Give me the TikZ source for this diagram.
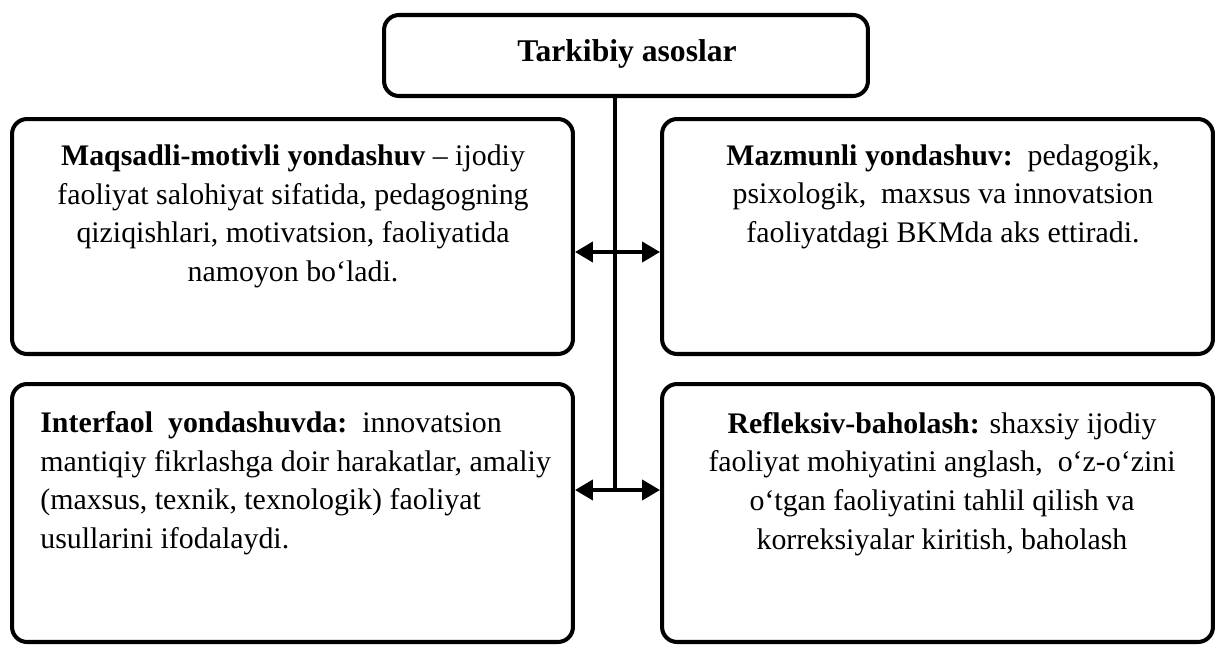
\documentclass[tikz,border=0pt]{standalone}
\usepackage{fontspec}
\setmainfont{Liberation Serif}
\usetikzlibrary{arrows.meta,positioning}

\begin{document}
\begin{tikzpicture}[x=0.02cm,y=-0.02cm,
    box/.style = {draw, line width=2.3pt, rounded corners=0.3cm, inner sep=0pt},
    txt/.style = {inner sep=0pt, anchor=base, align=center, font=\fontsize{17}{22}\selectfont},
    link/.style = {line width=2.3pt},
    dbl/.style = {line width=2.3pt, {Triangle[length=0.36cm,width=0.4cm]}-{Triangle[length=0.36cm,width=0.4cm]}}]
    \useasboundingbox (0,0) rectangle (1216,646);
    % boxes
    \node[box, minimum width=9.68cm, minimum height=1.62cm] (asos) at (626,55.5) {};
    \node[box, minimum width=11.22cm, minimum height=4.70cm] (maqsad) at (292.5,236.5) {};
    \node[box, minimum width=11.02cm, minimum height=4.70cm] (mazmun) at (937.5,236.5) {};
    \node[box, minimum width=11.22cm, minimum height=5.16cm] (interfaol) at (292.5,513) {};
    \node[box, minimum width=11.02cm, minimum height=5.16cm] (refleks) at (937.5,513) {};
    % texts (base = baseline of the last line)
    \node[txt, font=\fontsize{18}{22}\selectfont\bfseries] (asostxt) at (627,61) {Tarkibiy asoslar};
    \node[txt] (maqsadtxt) at (293,281.5) {\textbf{Maqsadli-motivli yondashuv} – ijodiy\\
        faoliyat salohiyat sifatida, pedagogning\\
        qiziqishlari, motivatsion, faoliyatida\\
        namoyon bo‘ladi.};
    \node[txt] (mazmuntxt) at (943,242.5) {\textbf{Mazmunli yondashuv:}\ \ pedagogik,\\
        psixologik,\ \ maxsus va innovatsion\\
        faoliyatdagi BKMda aks ettiradi.};
    \node[txt, anchor=base west, align=left] (interfaoltxt) at (40,548.5) {\textbf{Interfaol\ \ yondashuvda:}\ \ innovatsion\\
        mantiqiy fikrlashga doir harakatlar, amaliy\\
        (maxsus, texnik, texnologik) faoliyat\\
        usullarini ifodalaydi.};
    \node[txt] (refleksttxt) at (942,549) {\textbf{Refleksiv-baholash:} shaxsiy ijodiy\\
        faoliyat mohiyatini anglash,\ \ o‘z-o‘zini\\
        o‘tgan faoliyatini tahlil qilish va\\
        korreksiyalar kiritish, baholash};
    % connectors
    \coordinate (mid1) at (615,252);
    \coordinate (mid2) at (615,490);
    \draw[link] (asos.south -| mid1) -- (mid2);
    \draw[dbl] (maqsad.east |- mid1) -- (mazmun.west |- mid1);
    \draw[dbl] (interfaol.east |- mid2) -- (refleks.west |- mid2);
\end{tikzpicture}
\end{document}
